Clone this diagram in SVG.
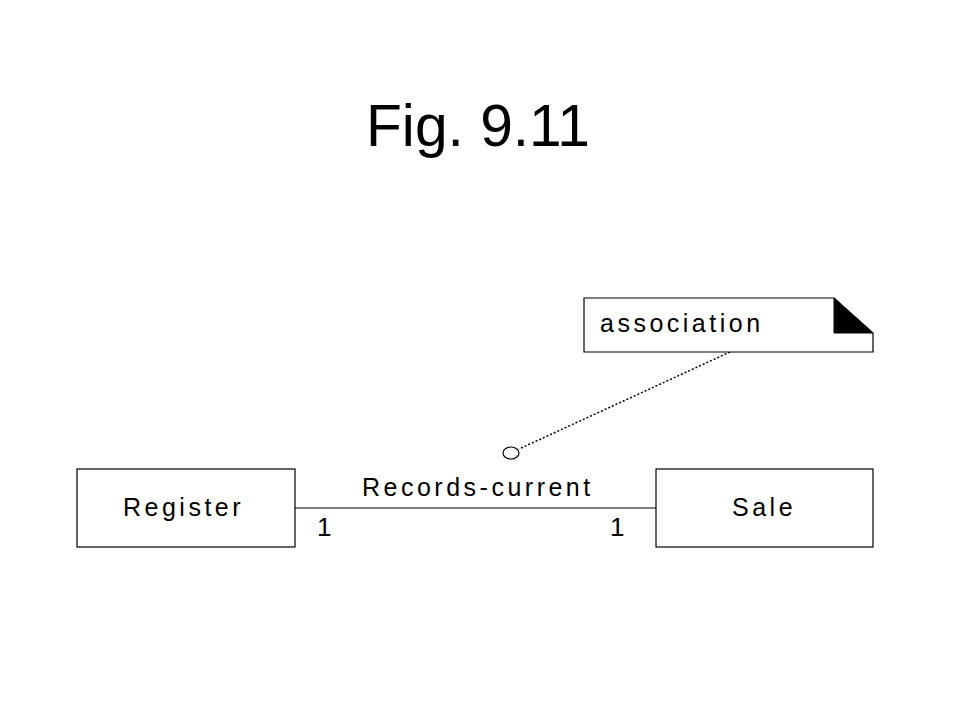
<svg xmlns="http://www.w3.org/2000/svg" width="960" height="720" viewBox="0 0 960 720">
<style>
text{font-family:"Liberation Sans",Arial,sans-serif;fill:#000}
.lbl{font-size:25px;letter-spacing:3.5px}
.box{fill:#fff;stroke:#000;stroke-width:1.2}
</style>
<rect width="960" height="720" fill="#fff"/>
<text x="366" y="146" font-size="60" textLength="224" lengthAdjust="spacingAndGlyphs">Fig. 9.11</text>
<g id="connectors">
<line x1="295" y1="508" x2="656" y2="508" stroke="#000" stroke-width="1.2"/>
<line x1="730" y1="352" x2="519" y2="449" stroke="#000" stroke-width="1.5" stroke-dasharray="2,2"/>
<ellipse cx="511" cy="453" rx="8" ry="6" fill="#fff" stroke="#000" stroke-width="1.2"/>
<text class="lbl" x="362" y="496">Records-current</text>
<text x="317" y="536" font-size="26">1</text>
<text x="610" y="536" font-size="26">1</text>
</g>
<g id="register">
<rect class="box" x="77" y="469" width="218" height="78"/>
<text class="lbl" x="123" y="516">Register</text>
</g>
<g id="sale">
<rect class="box" x="656" y="469" width="217" height="78"/>
<text class="lbl" x="732" y="516">Sale</text>
</g>
<g id="note">
<path class="box" d="M584 298 H834 L873 333 V352 H584 Z"/>
<path d="M834 298 L873 333 H834 Z" fill="#000" stroke="#000" stroke-width="1"/>
<text class="lbl" x="600" y="332">association</text>
</g>
</svg>
